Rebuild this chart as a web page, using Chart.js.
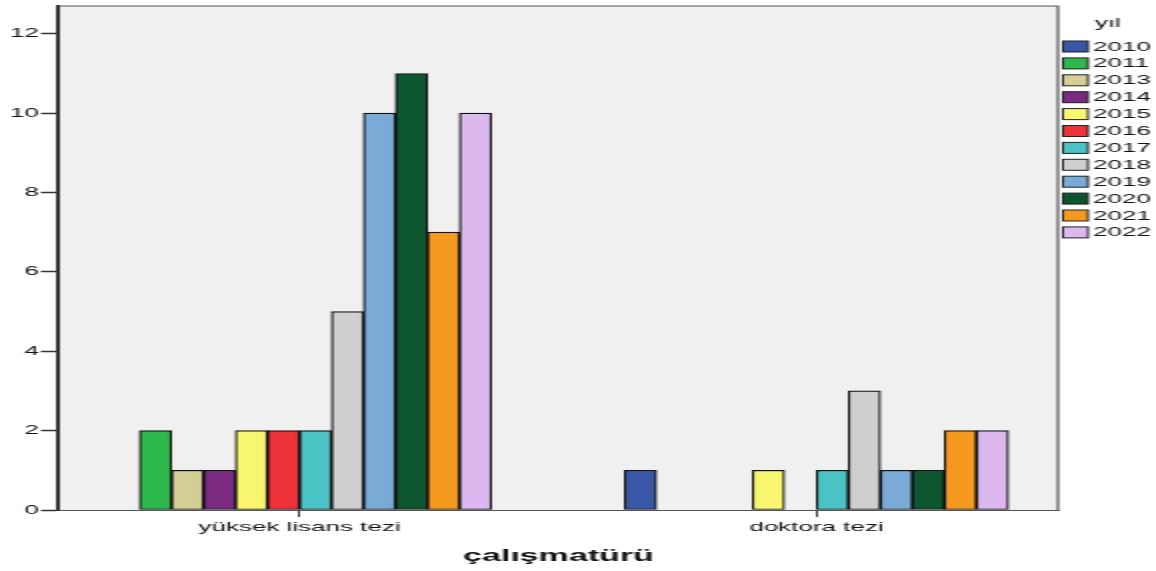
<!DOCTYPE html>
<html>
<head>
<meta charset="utf-8">
<script src="https://cdn.jsdelivr.net/npm/chart.js@4/dist/chart.umd.min.js"></script>
<style>
  html, body { margin: 0; padding: 0; background: #fff; overflow: hidden; }
  /* the reference is stretched 2x horizontally, so draw at half width and stretch */
  #wrap { width: 578px; height: 571px; transform: scaleX(2); transform-origin: 0 0; }
  canvas { display: block; }
</style>
</head>
<body>
<div id="wrap"><canvas id="chart" width="578" height="571" style="width:578px;height:571px"></canvas></div>
<script>
const categories = ['yüksek lisans tezi', 'doktora tezi']
const years = ['2010', '2011', '2013', '2014', '2015', '2016', '2017', '2018', '2019', '2020', '2021', '2022']
const yuksekLisans = [null, 2, 1, 1, 2, 2, 2, 5, 10, 11, 7, 10]
const doktora = [1, null, null, null, 1, null, 1, 3, 1, 1, 2, 2]
const yTicks = [0, 2, 4, 6, 8, 10, 12]
const colors = ['#3a57a7', '#2db84b', '#d4cf96', '#7b2a82', '#f9f66f', '#ee3239',
                '#4bc2c4', '#cfcfcf', '#7aaad6', '#0c552e', '#f6991f', '#dbb8ee']

const FONT = "'Liberation Sans', Arial, sans-serif"

const datasets = years.map((yr, i) => ({
    label: yr,
    data: [
        { x: 0, y: yuksekLisans[i] },
        { x: 1, y: doktora[i] }
    ],
    backgroundColor: colors[i],
    borderColor: '#111',
    borderWidth: 1.2,
    borderSkipped: false
}))

// plot background, frame and the legend on the right
const frame = {
    id: 'frame',
    beforeDraw(chart) {
        const { ctx, chartArea: a } = chart
        ctx.save()
        ctx.fillStyle = '#f0f0f0'
        ctx.fillRect(a.left, a.top, a.right - a.left, a.bottom - a.top)
        ctx.restore()
    },
    afterDraw(chart) {
        const { ctx, chartArea: a } = chart
        ctx.save()
        ctx.strokeStyle = '#555'
        ctx.lineWidth = 1.2
        ctx.beginPath()
        ctx.moveTo(a.left, a.top)
        ctx.lineTo(a.right, a.top)
        ctx.lineTo(a.right, a.bottom)
        ctx.stroke()

        // legend
        const x = a.right + 2.5
        ctx.fillStyle = '#111'
        ctx.font = '13px ' + FONT
        ctx.textBaseline = 'middle'
        ctx.fillText('yıl', x + 16, 23)
        chart.data.datasets.forEach((ds, i) => {
            const top = 41 + 16.9 * i
            ctx.fillStyle = ds.backgroundColor
            ctx.fillRect(x, top, 12.5, 11)
            ctx.strokeStyle = '#222'
            ctx.lineWidth = 1
            ctx.strokeRect(x, top, 12.5, 11)
            ctx.fillStyle = '#111'
            ctx.fillText(ds.label, x + 15, top + 6)
        })
        ctx.restore()
    }
}

new Chart(document.getElementById('chart'), {
    type: 'bar',
    data: { datasets },
    options: {
        responsive: false,
        devicePixelRatio: 1,
        animation: false,
        barThickness: 16,
        layout: { padding: { top: 6, left: 4, right: 49, bottom: 0 } },
        plugins: {
            legend: { display: false },
            tooltip: { enabled: false }
        },
        scales: {
            x: {
                type: 'linear',
                min: -0.4653,
                max: 1.4671,
                offset: false,
                afterBuildTicks(s) { s.ticks = categories.map((c, i) => ({ value: i })) },
                afterFit(s) { s.paddingLeft = 0; s.paddingRight = 0 },
                ticks: {
                    callback: v => categories[v],
                    color: '#111',
                    padding: 3,
                    maxRotation: 0,
                    autoSkip: false,
                    font: { family: FONT, size: 13 }
                },
                grid: { offset: false, drawOnChartArea: false, tickLength: 7, tickColor: '#333', tickWidth: 1 },
                border: { color: '#555', width: 1 },
                title: {
                    display: true,
                    text: 'çalışmatürü',
                    color: '#111',
                    font: { family: FONT, size: 17, weight: 'bold' },
                    padding: { top: 8, bottom: 4 }
                }
            },
            y: {
                min: 0,
                max: 12.7,
                afterBuildTicks(s) { s.ticks = yTicks.map(v => ({ value: v })) },
                afterFit(s) { s.paddingTop = 0 },
                ticks: {
                    color: '#111',
                    padding: 1,
                    font: { family: FONT, size: 13 }
                },
                grid: { drawOnChartArea: false, tickLength: 9, tickColor: '#333', tickWidth: 1.5 },
                border: { color: '#333', width: 2 }
            }
        }
    },
    plugins: [frame]
})
</script>
</body>
</html>
